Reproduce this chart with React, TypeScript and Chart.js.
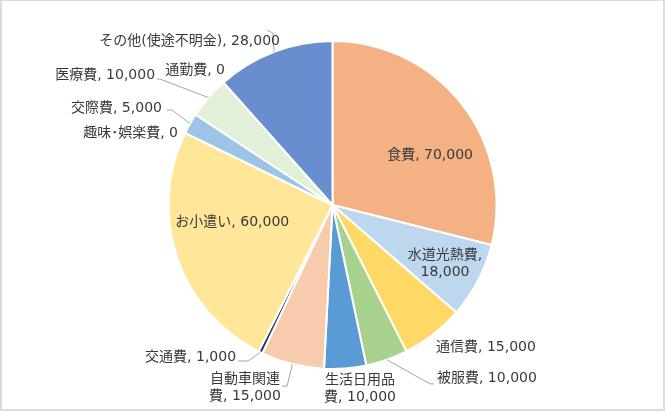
import React, { useEffect, useRef } from "react";
import { Chart, registerables } from "chart.js";

Chart.register(...registerables);

// ---- data ----
const categories: string[] = [
  "食費",
  "水道光熱費",
  "通信費",
  "被服費",
  "生活日用品費",
  "自動車関連費",
  "交通費",
  "お小遣い",
  "趣味･娯楽費",
  "交際費",
  "医療費",
  "通勤費",
  "その他(使途不明金)",
];

const amounts: number[] = [70000, 18000, 15000, 10000, 10000, 15000, 1000, 60000, 0, 5000, 10000, 0, 28000];

const sliceColors: string[] = [
  "#F4B183",
  "#BDD7EE",
  "#FFD966",
  "#A9D18E",
  "#5B9BD5",
  "#F8CBAD",
  "#203864",
  "#FFE699",
  "#9DC3E6",
  "#9DC3E6",
  "#E2F0D9",
  "#E2F0D9",
  "#698ED0",
];

// label line breaks (text content)
const labelLines: string[][] = [
  ["食費, 70,000"],
  ["水道光熱費,", "18,000"],
  ["通信費, 15,000"],
  ["被服費, 10,000"],
  ["生活日用品", "費, 10,000"],
  ["自動車関連", "費, 15,000"],
  ["交通費, 1,000"],
  ["お小遣い, 60,000"],
  ["趣味･娯楽費, 0"],
  ["交際費, 5,000"],
  ["医療費, 10,000"],
  ["通勤費, 0"],
  ["その他(使途不明金), 28,000"],
];

// label placement relative to pie centre, in units of the pie radius
type Place = { fx: number; fy: number; align: CanvasTextAlign; leader?: number[][] };
const labelPlacement: Place[] = [
  { fx: 0.595, fy: -0.305, align: "center" },
  { fx: 0.686, fy: 0.357, align: "center" },
  { fx: 0.631, fy: 0.866, align: "left" },
  { fx: 0.637, fy: 1.055, align: "left", leader: [[0.619, 1.091], [0.595, 1.091]] },
  { fx: 0.168, fy: 1.122, align: "center" },
  { fx: -0.534, fy: 1.116, align: "center", leader: [[-0.308, 1.104], [-0.277, 1.104]] },
  { fx: -0.588, fy: 0.927, align: "right", leader: [[-0.576, 0.951], [-0.515, 0.951]] },
  { fx: -0.611, fy: 0.104, align: "center" },
  { fx: -0.942, fy: -0.439, align: "right" },
  { fx: -1.04, fy: -0.591, align: "right", leader: [[-1.009, -0.579], [-0.978, -0.579]] },
  { fx: -1.082, fy: -0.793, align: "right", leader: [[-1.07, -0.768], [-1.052, -0.768]] },
  { fx: -0.838, fy: -0.823, align: "center" },
  { fx: -0.32, fy: -1.0, align: "right", leader: [[-0.399, -1.067], [-0.363, -1.048]] },
];

const FONT = "14px 'DejaVu Sans', 'Noto Sans CJK JP', sans-serif";
const LINE_H = 17;

const labelPlugin = {
  id: "pieLabels",
  afterDatasetsDraw(chart: any) {
    const ctx = chart.ctx as CanvasRenderingContext2D;
    const meta = chart.getDatasetMeta(0);
    ctx.save();
    meta.data.forEach((arc: any, i: number) => {
      const p = arc.getProps(["x", "y", "startAngle", "endAngle", "outerRadius"], true);
      const R = p.outerRadius;
      const place = labelPlacement[i];
      const mid = (p.startAngle + p.endAngle) / 2;
      if (place.leader) {
        ctx.strokeStyle = "#A6A6A6";
        ctx.lineWidth = 1;
        ctx.beginPath();
        place.leader.forEach((pt, k) => {
          const lx = p.x + pt[0] * R;
          const ly = p.y + pt[1] * R;
          if (k === 0) ctx.moveTo(lx, ly);
          else ctx.lineTo(lx, ly);
        });
        ctx.lineTo(p.x + Math.cos(mid) * R, p.y + Math.sin(mid) * R);
        ctx.stroke();
      }
      const lines = labelLines[i];
      const tx = p.x + place.fx * R;
      const ty = p.y + place.fy * R;
      ctx.font = FONT;
      ctx.fillStyle = "#3A3A3A";
      ctx.textAlign = place.align;
      ctx.textBaseline = "middle";
      const top = ty - ((lines.length - 1) * LINE_H) / 2;
      lines.forEach((ln, k) => ctx.fillText(ln, tx, top + k * LINE_H));
    });
    ctx.restore();
  },
};

export default function App() {
  const ref = useRef<HTMLCanvasElement | null>(null);
  useEffect(() => {
    if (!ref.current) return;
    const chart = new Chart(ref.current, {
      type: "pie",
      data: {
        labels: categories,
        datasets: [
          {
            data: amounts,
            backgroundColor: sliceColors,
            borderColor: "#FFFFFF",
            borderWidth: 2,
          },
        ],
      },
      options: {
        animation: false,
        responsive: true,
        maintainAspectRatio: false,
        layout: { padding: { top: 40, bottom: 41, left: 0, right: 0 } },
        plugins: {
          legend: { display: false },
          tooltip: { enabled: false },
        },
      },
      plugins: [labelPlugin],
    });
    return () => chart.destroy();
  }, []);
  return (
    <div style={{ position: "absolute", left: 0, top: 0, width: 665, height: 411, background: "#fff" }}>
      <canvas ref={ref} />
      <div
        style={{
          position: "absolute",
          inset: 0,
          borderTop: "1px solid #DCDCDC",
          borderLeft: "2px solid #DCDCDC",
          borderRight: "2px solid #DCDCDC",
          borderBottom: "2px solid #DCDCDC",
          pointerEvents: "none",
        }}
      />
    </div>
  );
}
